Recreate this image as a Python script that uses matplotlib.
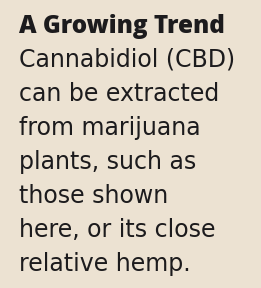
import matplotlib.pyplot as plt

title = "A Growing Trend"
body_lines = [
    "Cannabidiol (CBD)",
    "can be extracted",
    "from marijuana",
    "plants, such as",
    "those shown",
    "here, or its close",
    "relative hemp.",
]

W, H = 261, 288
fig = plt.figure(figsize=(W / 100, H / 100), dpi=100)
fig.patch.set_facecolor('#ece2d2')

x0 = 19
base0 = 33
step = 34

fig.text(x0 / W, 1 - base0 / H, title, fontsize=17.5, fontweight='heavy',
         family='Open Sans', color='#1c1b1d', va='baseline', ha='left')
for i, line in enumerate(body_lines):
    y = base0 + step * (i + 1)
    fig.text(x0 / W, 1 - y / H, line, fontsize=17, family='DejaVu Sans',
             color='#1c1b1d', va='baseline', ha='left')

fig.savefig("out.png", dpi=100, facecolor=fig.get_facecolor())
